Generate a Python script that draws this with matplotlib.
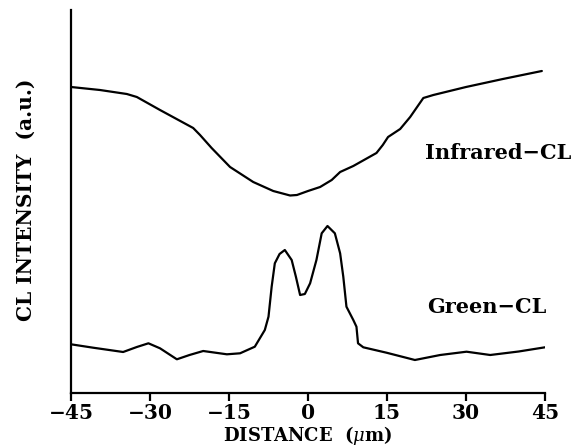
import matplotlib
matplotlib.use("Agg")
import matplotlib.pyplot as plt

# Infrared-CL profile (distance in um, intensity in arbitrary units)
ir_x = [-45, -39.5, -34.4, -32.5, -28.1, -21.8, -20.5, -18.3, -14.8, -10.4,
        -6.6, -3.4, -2.1, 0.0, 2.3, 4.5, 6.1, 8.6, 13, 14.2, 15.2, 17.5,
        19.4, 21.9, 23.8, 30, 37, 44.4]
ir_y = [306, 303, 299, 296, 283, 265, 258, 245, 226, 211,
        202, 197.5, 198, 202, 206, 213, 221, 227, 240, 248, 256, 264,
        276, 295, 298, 306, 314, 322]

# Green-CL profile
g_x = [-45, -40.8, -35.1, -32.5, -30.3, -28.1, -24.9, -22.5, -19.9, -15.4,
       -12.9, -10.1, -8.2, -7.5, -6.9, -6.3, -5.4, -4.4, -3.1, -2.3, -1.5,
       -0.6, 0.4, 1.6, 2.6, 3.7, 5.1, 6.1, 6.7, 7.3, 8.6, 9.2, 9.5, 10.5,
       14.9, 20.3, 25.1, 30.1, 34.6, 40, 45]
g_y = [48.7, 45.3, 41, 46, 49.7, 44.7, 33.7, 38, 42, 38.7,
       39.7, 46.3, 63, 76.3, 106.3, 129.7, 139, 143, 133, 116.3, 98,
       99, 109.7, 133, 159.7, 167, 159.7, 139.7, 116.3, 86.3, 73, 66.3, 49.7, 45.7,
       40.3, 33, 38, 41.3, 38, 41.5, 45.7]

xticks = [-45, -30, -15, 0, 15, 30, 45]

SERIF = 'DejaVu Serif'
plt.rcParams['mathtext.fontset'] = 'dejavuserif'
fig = plt.figure(figsize=(5.83, 4.48), dpi=100)
ax = fig.add_axes([71/583, 55/448, 474/583, 383/448])

ax.plot(ir_x, ir_y, color='black', lw=1.6, solid_joinstyle='round',
        solid_capstyle='round')
ax.plot(g_x, g_y, color='black', lw=1.6, solid_joinstyle='round',
        solid_capstyle='round')

ax.set_xlim(-45, 45)
ax.set_ylim(0, 383)
ax.spines['top'].set_visible(False)
ax.spines['right'].set_visible(False)
ax.spines['left'].set_linewidth(1.6)
ax.spines['bottom'].set_linewidth(1.6)
ax.set_yticks([])
ax.set_xticks(xticks)
ax.set_xticklabels([f"{t}".replace('-', '\u2212') for t in xticks],
                   fontfamily=SERIF, fontweight='bold', fontsize=14.5)
ax.tick_params(axis='x', direction='out', length=6, width=1.6, pad=1.5)

fig.text(308/583, 1/448, r'DISTANCE  ($\mu$m)', fontfamily=SERIF,
         fontweight='bold', fontsize=13, ha='center', va='bottom')
fig.text(26/583, 1 - 200/448, 'CL INTENSITY  (a.u.)', fontfamily=SERIF,
         fontweight='bold', fontsize=14.5, rotation=90, ha='center', va='center')

ax.text(22.2, 240, 'Infrared\u2212CL', fontfamily=SERIF,
        fontweight='bold', fontsize=15, ha='left', va='center')
ax.text(22.6, 86, 'Green\u2212CL', fontfamily=SERIF,
        fontweight='bold', fontsize=15, ha='left', va='center')

fig.savefig('out.png', dpi=100)
